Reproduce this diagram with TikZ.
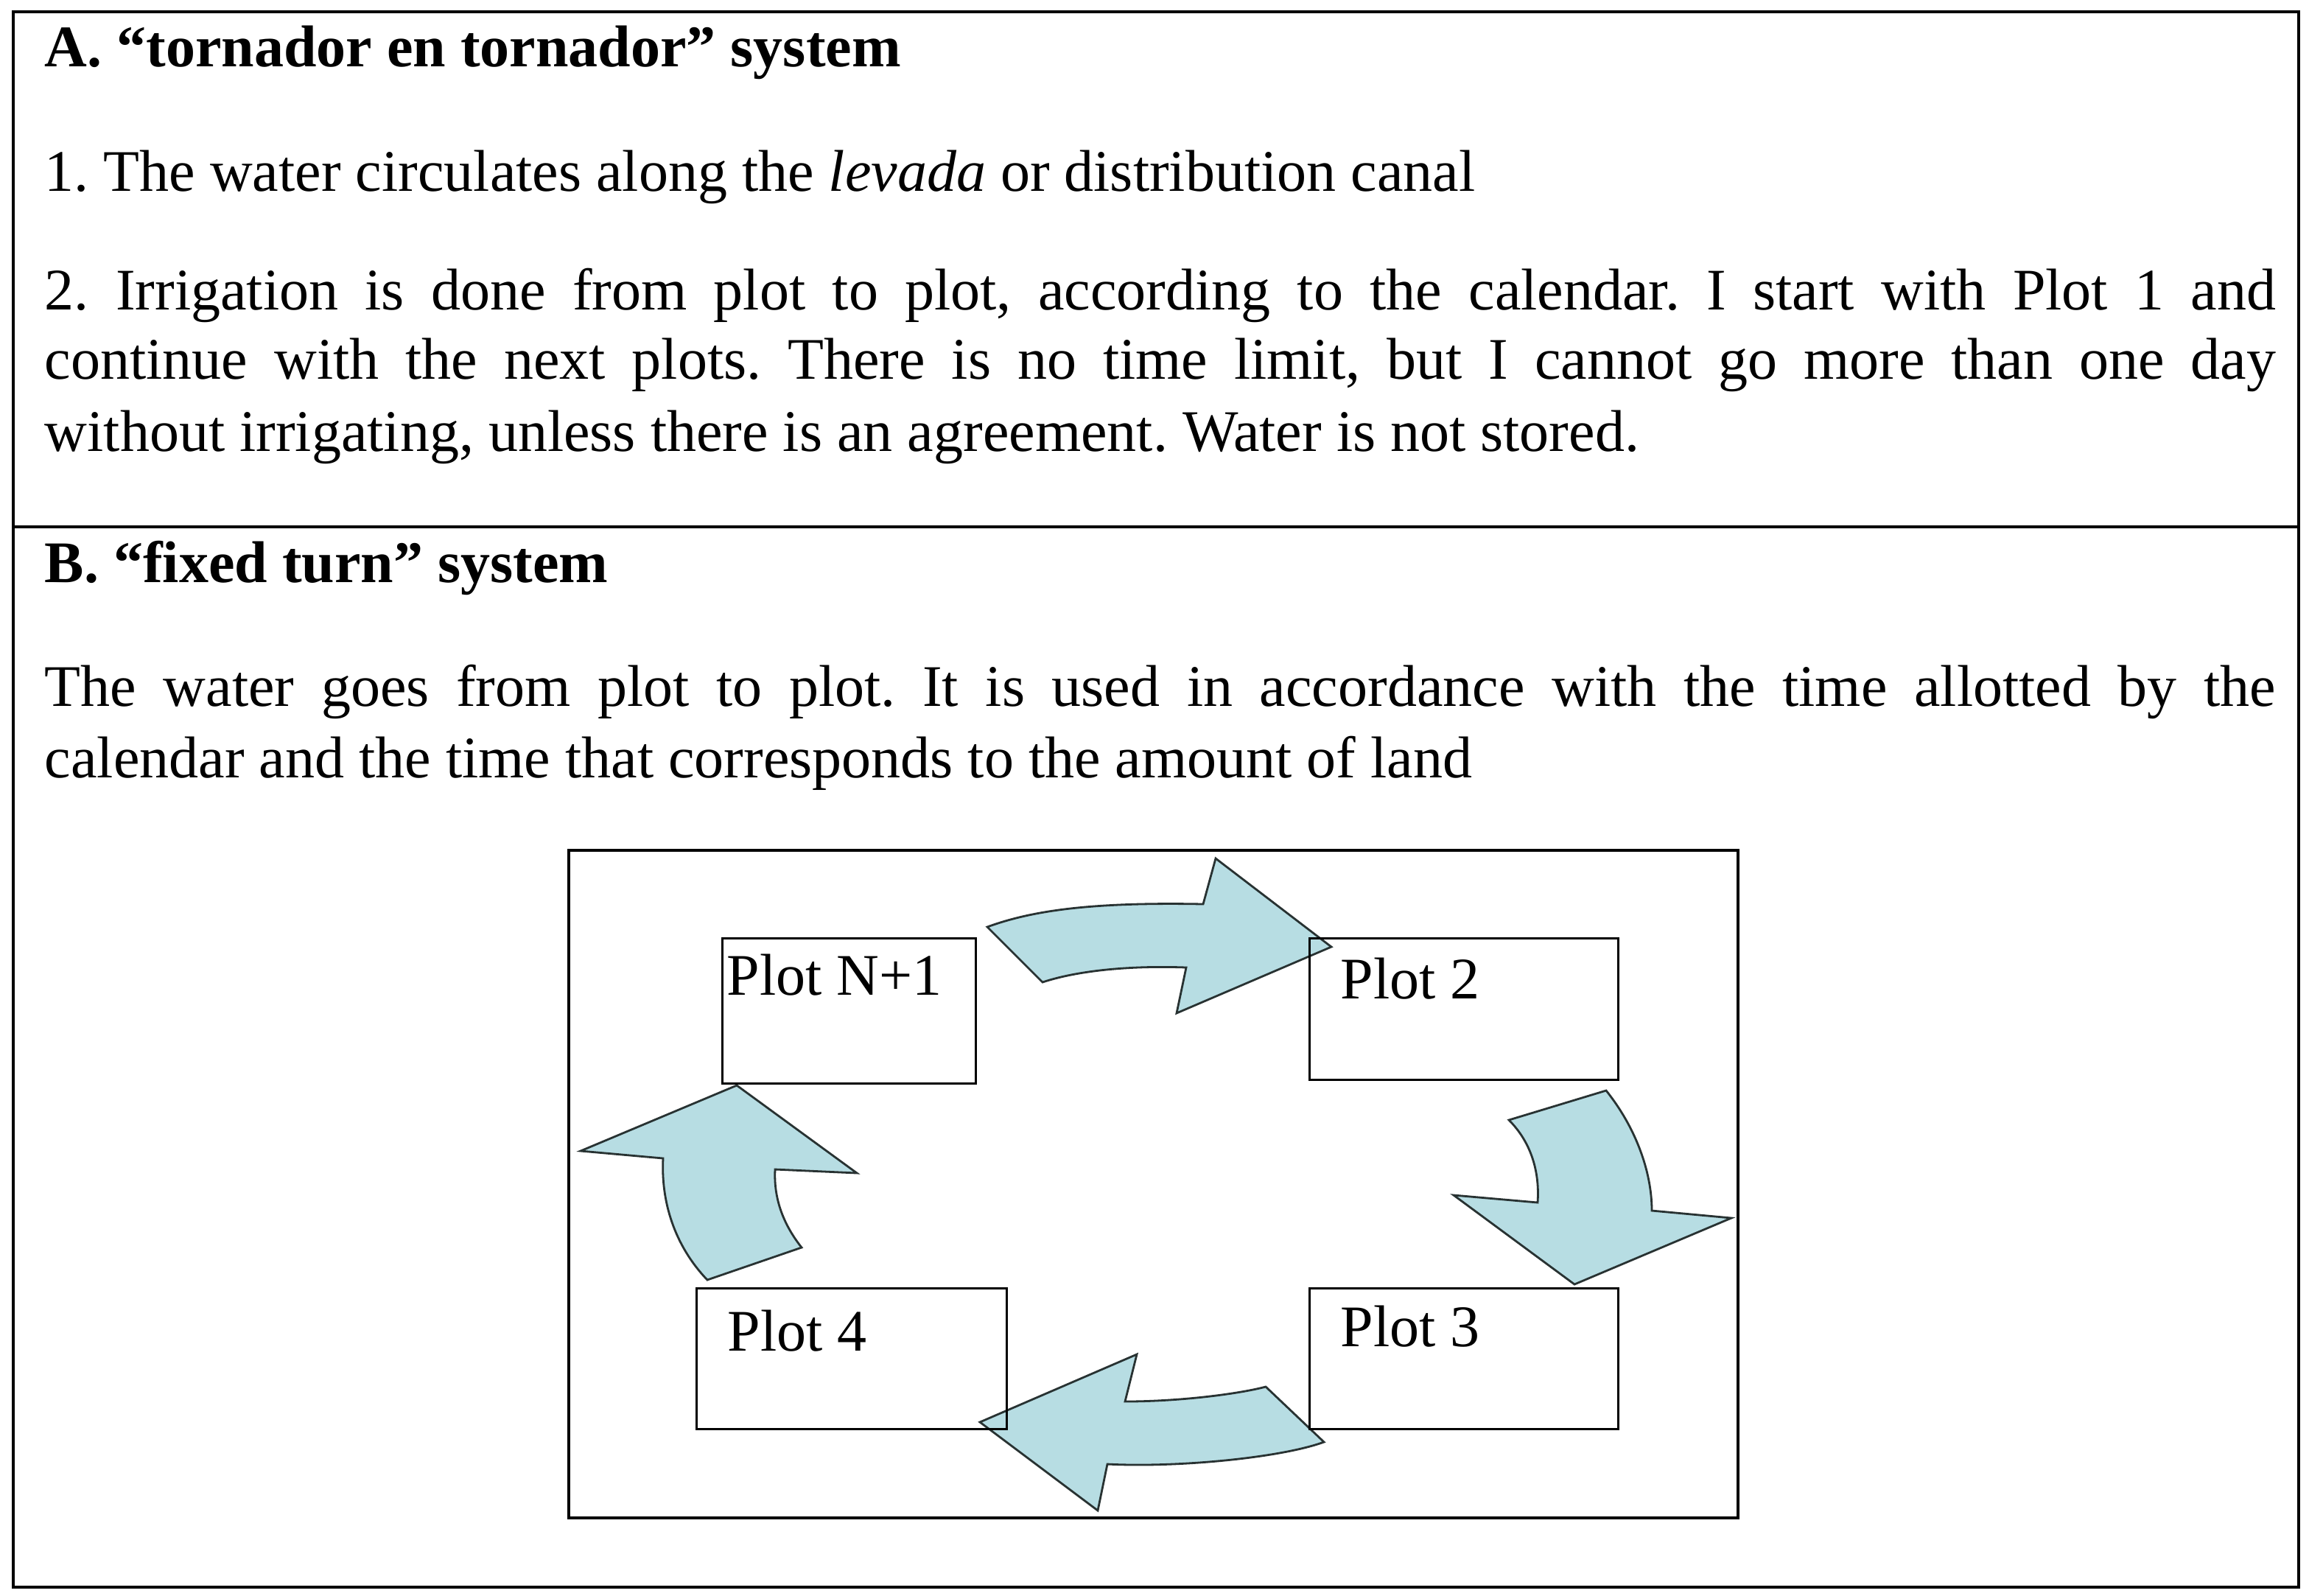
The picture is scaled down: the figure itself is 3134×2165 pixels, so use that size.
\documentclass[tikz,border=0pt]{standalone}
\usepackage{fontspec}
\setmainfont{Liberation Serif}
\usetikzlibrary{fit}
\definecolor{arrowfill}{RGB}{183,221,227}
\definecolor{arrowline}{RGB}{40,50,50}
\frenchspacing
\begin{document}
\begin{tikzpicture}[x=0.25pt,y=-0.25pt,
  txt/.style={anchor=base west, inner sep=0pt, font=\fontsize{20}{24}\selectfont},
  frame/.style={draw=black, line width=0.9pt},
  plotbox/.style={draw=black, line width=0.75pt, inner sep=0pt},
  blockarrow/.style={fill=arrowfill, draw=arrowline, line width=0.7pt, line join=miter}]
\useasboundingbox[fill=white] (0,0) rectangle (3134,2165);

% outer table
\draw[frame] (18,16) rectangle (3120,2154);
\coordinate (sepL) at (18,715);
\coordinate (sepR) at (3120,715);
\draw[frame] (sepL) -- (sepR);

% section A
\node[txt] (atitle) at (60,90) {\textbf{A. “tornador en tornador” system}};
\node[txt] (a1) at (60,259) {1. The water circulates along the \textit{levada} or distribution canal};
\node[txt] (a2) at (60,420) {\makebox[757pt][s]{2. Irrigation is done from plot to plot, according to the calendar. I start with Plot 1 and}};
\node[txt] (a3) at (60,514) {\makebox[757pt][s]{continue with the next plots. There is no time limit, but I cannot go more than one day}};
\node[txt] (a4) at (60,612) {without irrigating, unless there is an agreement. Water is not stored.};

% section B
\node[txt] (btitle) at (60,790) {\textbf{B. “fixed turn” system}};
\node[txt] (b1) at (60,958) {\makebox[757pt][s]{The water goes from plot to plot. It is used in accordance with the time allotted by the}};
\node[txt] (b2) at (60,1055) {calendar and the time that corresponds to the amount of land};

% inner frame
\node[plotbox, line width=0.8pt, fit={(772,1154) (2359,2060)}] (inner) {};

% block arrows
\draw[blockarrow] (1340,1258) .. controls (1400,1236) and (1480,1224) .. (1633,1227)
  -- (1650,1165) -- (1807,1285) -- (1597,1375) -- (1610,1313)
  .. controls (1530,1310) and (1460,1318) .. (1415,1333) -- cycle;
\draw[blockarrow] (2048,1520) -- (2180,1480)
  .. controls (2220,1530) and (2242,1590) .. (2242,1643)
  -- (2350,1653) -- (2137,1743) -- (1973,1622) -- (2087,1632)
  .. controls (2090,1590) and (2078,1550) .. (2048,1520) -- cycle;
\draw[blockarrow] (1718,1882) -- (1797,1957)
  .. controls (1740,1978) and (1600,1992) .. (1503,1987)
  -- (1490,2050) -- (1330,1930) -- (1543,1838) -- (1527,1902)
  .. controls (1600,1902) and (1680,1892) .. (1718,1882) -- cycle;
\draw[blockarrow] (1000,1473) -- (1163,1592) -- (1052,1587)
  .. controls (1050,1625) and (1062,1660) .. (1088,1693)
  -- (960,1737) .. controls (915,1690) and (897,1630) .. (900,1572)
  -- (788,1562) -- cycle;

% plot boxes
\node[plotbox, fit={(980,1273) (1324,1470)}] (pn) {};
\node[plotbox, fit={(1777,1273) (2196,1465)}] (p2) {};
\node[plotbox, fit={(1777,1748) (2196,1939)}] (p3) {};
\node[plotbox, fit={(945,1748) (1366,1939)}] (p4) {};
\node[txt] (lpn) at (986,1350) {Plot N+1};
\node[txt] (lp2) at (1819,1355) {Plot 2};
\node[txt] (lp3) at (1819,1827) {Plot 3};
\node[txt] (lp4) at (987,1833) {Plot 4};
\end{tikzpicture}
\end{document}
